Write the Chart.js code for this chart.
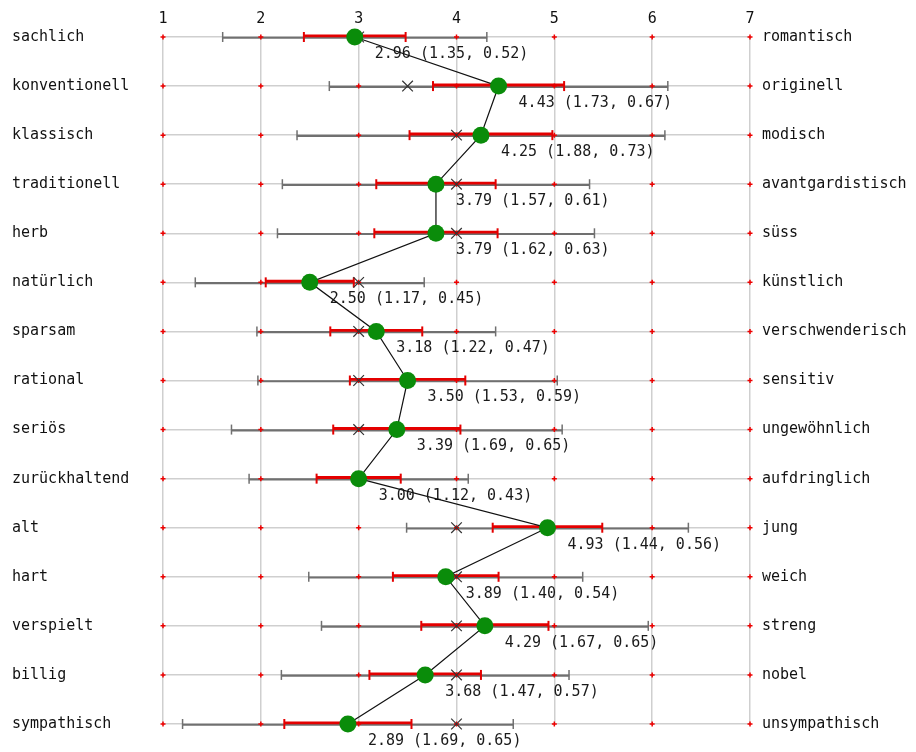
<!DOCTYPE html>
<html>
<head>
<meta charset="utf-8">
<script src="https://cdn.jsdelivr.net/npm/chart.js@4/dist/chart.umd.min.js"></script>
<style>
  html, body { margin: 0; padding: 0; background: #fff; }
  #wrap { width: 916px; height: 752px; }
</style>
</head>
<body>
<div id="wrap"><canvas id="profile" width="916" height="752"></canvas></div>
<script>
const leftLabels = ["sachlich", "konventionell", "klassisch", "traditionell", "herb", "natürlich", "sparsam", "rational", "seriös", "zurückhaltend", "alt", "hart", "verspielt", "billig", "sympathisch"];
const rightLabels = ["romantisch", "originell", "modisch", "avantgardistisch", "süss", "künstlich", "verschwenderisch", "sensitiv", "ungewöhnlich", "aufdringlich", "jung", "weich", "streng", "nobel", "unsympathisch"];
const means = [2.96, 4.43, 4.25, 3.79, 3.79, 2.50, 3.18, 3.50, 3.39, 3.00, 4.93, 3.89, 4.29, 3.68, 2.89];
const sds = [1.35, 1.73, 1.88, 1.57, 1.62, 1.17, 1.22, 1.53, 1.69, 1.12, 1.44, 1.40, 1.67, 1.47, 1.69];
const cis = [0.52, 0.67, 0.73, 0.61, 0.63, 0.45, 0.47, 0.59, 0.65, 0.43, 0.56, 0.54, 0.65, 0.57, 0.65];
const medians = [3, 3.5, 4, 4, 4, 3, 3, 3, 3, 3, 4, 4, 4, 4, 4];
const scaleTicks = [1, 2, 3, 4, 5, 6, 7];

const FONT = "'DejaVu Sans Mono', 'Liberation Mono', monospace";
const rows = means.map((m, i) => i);

let markers = [];
for (const r of rows) {
    for (const t of scaleTicks) {
        markers.push({x: t, y: r});
    }
}
const sdBars = rows.map(i => ({x: [means[i] - sds[i], means[i] + sds[i]], y: i}));
const ciBars = rows.map(i => ({x: [means[i] - cis[i], means[i] + cis[i]], y: i}));
let sdCaps = [], ciCaps = [];
for (const i of rows) {
    sdCaps.push({x: means[i] - sds[i], y: i}, {x: means[i] + sds[i], y: i});
    ciCaps.push({x: means[i] - cis[i], y: i}, {x: means[i] + cis[i], y: i});
}
const medianPts = rows.map(i => ({x: medians[i], y: i}));
const meanPts = rows.map(i => ({x: means[i], y: i}));

let valueLabels = {
    id: "valueLabels",
    beforeDatasetsDraw(chart) {
        const ctx = chart.ctx;
        const xs = chart.scales.x, ys = chart.scales.y;
        ctx.save();
        ctx.font = "15px " + FONT;
        ctx.fillStyle = "#1a1a1a";
        ctx.textAlign = "left";
        ctx.textBaseline = "middle";
        for (const i of rows) {
            const txt = `${means[i].toFixed(2)} (${sds[i].toFixed(2)}, ${cis[i].toFixed(2)})`;
            ctx.fillText(txt, xs.getPixelForValue(means[i]) + 20, ys.getPixelForValue(i) + 17);
        }
        ctx.restore();
    }
};

const gridStyle = {color: "#cfcfcf", lineWidth: 1.5, drawTicks: false, offset: false};

new Chart(document.getElementById("profile"), {
    type: "scatter",
    data: {
        datasets: [
            {
                type: "bar", indexAxis: "y", data: sdBars, order: 10, clip: false,
                backgroundColor: "#707070", borderWidth: 0, barThickness: 1.5
            },
            {
                data: markers, order: 9, clip: false, pointStyle: "cross", radius: 2.5,
                borderColor: "#ee0000", borderWidth: 1.5
            },
            {
                type: "bar", indexAxis: "y", data: ciBars, order: 8, clip: false,
                backgroundColor: "#e40000", borderWidth: 0, barThickness: 2.2
            },
            {
                data: sdCaps, order: 7, clip: false, pointStyle: "line", rotation: 90, radius: 5,
                borderColor: "#707070", borderWidth: 1.5
            },
            {
                data: ciCaps, order: 6, clip: false, pointStyle: "line", rotation: 90, radius: 5,
                borderColor: "#e40000", borderWidth: 2
            },
            {
                data: medianPts, order: 5, clip: false, pointStyle: "crossRot", radius: 7.5,
                borderColor: "#333", borderWidth: 1.2
            },
            {
                data: meanPts, order: 1, clip: false, showLine: true, borderColor: "#111", borderWidth: 1.2,
                pointStyle: "circle", radius: 8.5, backgroundColor: "#0a8c0a",
                pointBorderColor: "#0a8c0a", pointBorderWidth: 0
            }
        ]
    },
    options: {
        responsive: false,
        animation: false,
        events: [],
        layout: {padding: {left: 12, right: 0, top: 3, bottom: 28}},
        plugins: {legend: {display: false}, tooltip: {enabled: false}},
        scales: {
            x: {
                type: "linear", position: "top", min: 1, max: 7, offset: false, beginAtZero: false,
                afterBuildTicks: (s) => { s.ticks = scaleTicks.map(v => ({value: v})); },
                ticks: {padding: 9, color: "#111", font: {family: FONT, size: 15}},
                grid: gridStyle,
                border: {display: false},
                afterFit: (s) => { s.height = 34; }
            },
            y: {
                type: "linear", position: "left", min: 0, max: 14, reverse: true, offset: false,
                afterBuildTicks: (s) => { s.ticks = rows.map(v => ({value: v})); },
                ticks: {
                    crossAlign: "far", padding: 0, color: "#111",
                    font: {family: FONT, size: 15},
                    callback: (v) => leftLabels[v]
                },
                grid: gridStyle,
                border: {display: false},
                afterFit: (s) => { s.width = 151; }
            },
            yr: {
                type: "linear", position: "right", min: 0, max: 14, reverse: true, offset: false,
                afterBuildTicks: (s) => { s.ticks = rows.map(v => ({value: v})); },
                ticks: {
                    padding: 12, color: "#111",
                    font: {family: FONT, size: 15},
                    callback: (v) => rightLabels[v]
                },
                grid: {display: false, drawTicks: false, offset: false},
                border: {display: false},
                afterFit: (s) => { s.width = 166; }
            }
        }
    },
    plugins: [valueLabels]
});
</script>
</body>
</html>
